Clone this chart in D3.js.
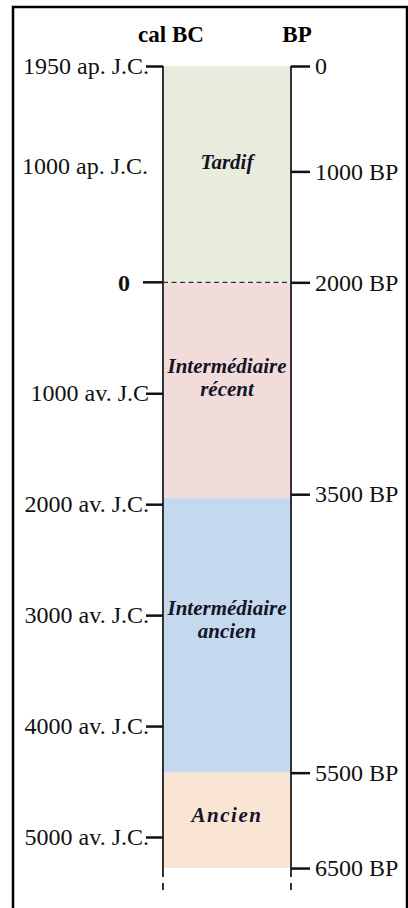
<!DOCTYPE html>
<html>
<head>
<meta charset="utf-8">
<script src="https://cdn.jsdelivr.net/npm/d3@7"></script>
<style>
  body { margin: 0; background: #fff; }
  svg { display: block; }
  text { font-family: "Liberation Serif", "Times New Roman", serif; }
</style>
</head>
<body>
<svg id="chart"></svg>
<script>
// Calendar axis (years, negative = BC)
const calTicks = [1950, -1000, -2000, -3000, -4000, -5000];
const calLabels = ['1950 ap. J.C.', '1000 av. J.C', '2000 av. J.C.', '3000 av. J.C.', '4000 av. J.C.', '5000 av. J.C.'];
const calUntickedYear = 1000;
const calUntickedLabel = '1000 ap. J.C.';

// BP axis and the calendar year each BP tick sits on
const bpTicks = [0, 1000, 2000, 3500, 5500, 6500];
const bpCalYears = [1950, 1000, 0, -1910, -4420, -5280];

// Periods
const periodNames = [['Tardif'], ['Intermédiaire', 'récent'], ['Intermédiaire', 'ancien'], ['Ancien']];
const periodStart = [1950, 0, -1945, -4420];
const periodEnd = [0, -1945, -4420, -5280];
const periodColors = ['#e9ecdc', '#f2dbdb', '#c4d8ee', '#fae4d4'];

const axisEndYear = -5360;
const width = 408, height = 908;
const leftX = 163, rightX = 291;

const svg = d3.select('#chart').attr('width', width).attr('height', height);

// frame
svg.append('rect')
    .attr('x', 13).attr('y', 7)
    .attr('width', 394).attr('height', 910)
    .attr('fill', 'none').attr('stroke', '#000').attr('stroke-width', 2.5);

const y = d3.scaleLinear().domain([1950, -5000]).range([66, 837]);
const bpScale = d3.scaleLinear().domain(bpTicks).range(bpCalYears.map(y));

// period bands
svg.append('g').selectAll('rect')
    .data(periodNames)
    .enter()
    .append('rect')
    .attr('x', leftX + 1)
    .attr('width', rightX - leftX - 2)
    .attr('y', (d, i) => y(periodStart[i]))
    .attr('height', (d, i) => y(periodEnd[i]) - y(periodStart[i]))
    .attr('fill', (d, i) => periodColors[i]);

// period labels
const labelGroups = svg.append('g').selectAll('text')
    .data(periodNames)
    .enter()
    .append('text')
    .attr('text-anchor', 'middle')
    .attr('font-size', 21)
    .attr('font-weight', 'bold')
    .attr('font-style', 'italic')
    .attr('fill', '#141426')
    .attr('letter-spacing', d => d.length === 1 && d[0] === 'Ancien' ? 1.5 : 0)
    .attr('transform', (d, i) => {
        const top = y(periodStart[i]), bot = y(periodEnd[i]);
        const cy = top + (bot - top) * 0.44 - (d.length - 1) * 11.5;
        return `translate(${(leftX + rightX) / 2},${cy})`;
    });
labelGroups.selectAll('tspan')
    .data(d => d)
    .enter()
    .append('tspan')
    .attr('x', 0)
    .attr('y', (d, i) => i * 23)
    .attr('dy', '0.35em')
    .text(d => d);

// dashed line at year 0
svg.append('line')
    .attr('x1', leftX).attr('x2', rightX)
    .attr('y1', y(0)).attr('y2', y(0))
    .attr('stroke', '#333').attr('stroke-width', 1.3)
    .attr('stroke-dasharray', '5,3.5');

// vertical axis lines
[leftX, rightX].forEach(x => {
    svg.append('line')
        .attr('x1', x).attr('x2', x)
        .attr('y1', y(1950)).attr('y2', y(axisEndYear))
        .attr('stroke', '#333').attr('stroke-width', 2);
    svg.append('line')
        .attr('x1', x).attr('x2', x)
        .attr('y1', y(axisEndYear) + 6).attr('y2', y(axisEndYear) + 13)
        .attr('stroke', '#333').attr('stroke-width', 2);
});

// left calendar axis
const leftAxis = svg.append('g')
    .attr('transform', `translate(${leftX},0)`)
    .call(d3.axisLeft(y)
        .tickValues(calTicks)
        .tickFormat((d, i) => calLabels[i])
        .tickSize(17)
        .tickPadding(-3));

// right BP axis
const rightAxis = svg.append('g')
    .attr('transform', `translate(${rightX},0)`)
    .call(d3.axisRight(bpScale)
        .tickValues(bpTicks)
        .tickFormat(d => d === 0 ? '0' : d + ' BP')
        .tickSize(19)
        .tickPadding(5));

[leftAxis, rightAxis].forEach(ax => {
    ax.select('.domain').remove();
    ax.selectAll('.tick line').attr('stroke', '#111').attr('stroke-width', 2.5);
    ax.selectAll('.tick text')
        .attr('font-family', '"Liberation Serif", "Times New Roman", serif')
        .attr('font-size', 24)
        .attr('fill', '#111');
});

// unticked label 1000 ap. J.C.
svg.append('text')
    .attr('x', 148).attr('y', y(calUntickedYear))
    .attr('dy', '0.1em')
    .attr('text-anchor', 'end')
    .attr('font-size', 24)
    .attr('fill', '#111')
    .text(calUntickedLabel);

// year 0 tick (bold label, detached)
svg.append('line')
    .attr('x1', leftX - 20).attr('x2', leftX)
    .attr('y1', y(0)).attr('y2', y(0))
    .attr('stroke', '#111').attr('stroke-width', 2.5);
svg.append('text')
    .attr('x', 130).attr('y', y(0))
    .attr('dy', '0.35em')
    .attr('text-anchor', 'end')
    .attr('font-size', 24)
    .attr('font-weight', 'bold')
    .attr('fill', '#111')
    .text('0');

// headers
svg.append('text')
    .attr('x', 171).attr('y', 42)
    .attr('text-anchor', 'middle')
    .attr('font-size', 23).attr('font-weight', 'bold')
    .text('cal BC');
svg.append('text')
    .attr('x', 297).attr('y', 42)
    .attr('text-anchor', 'middle')
    .attr('font-size', 23).attr('font-weight', 'bold')
    .text('BP');
</script>
</body>
</html>
